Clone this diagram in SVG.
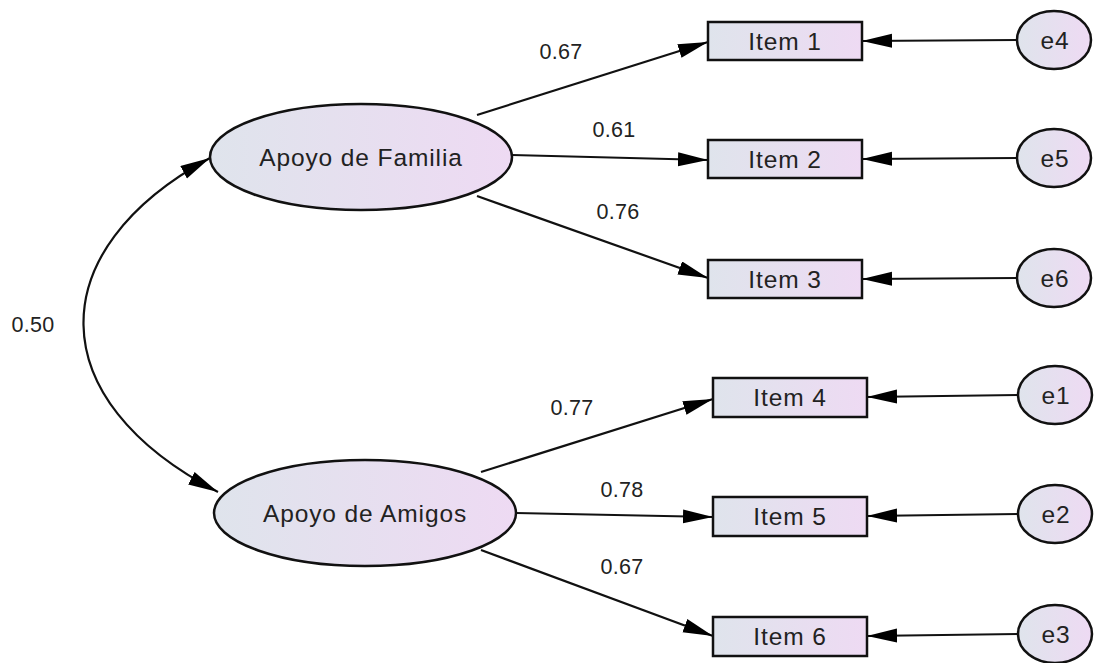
<svg xmlns="http://www.w3.org/2000/svg" width="1095" height="663" viewBox="0 0 1095 663">
<defs>
<linearGradient id="g" x1="0" y1="0" x2="1" y2="0">
<stop offset="0" stop-color="#dfe4ec"/>
<stop offset="1" stop-color="#eedaf3"/>
</linearGradient>
<marker id="ah" markerUnits="userSpaceOnUse" markerWidth="32" markerHeight="16" refX="30" refY="7" orient="auto-start-reverse">
<path d="M0,0 L30,7 L0,14 z" fill="#000"/>
</marker>
</defs>
<style>
.shape{fill:url(#g);stroke:#111;stroke-width:2.5}
.lbl{font-family:"Liberation Sans",Arial,sans-serif;font-size:24.5px;letter-spacing:0.9px;fill:#222;text-anchor:middle;dominant-baseline:central}
.num{font-family:"Liberation Sans",Arial,sans-serif;font-size:21.5px;letter-spacing:0.3px;fill:#222;text-anchor:middle;dominant-baseline:central}
.c{fill:none;stroke:#111;stroke-width:2.2;marker-end:url(#ah)}
</style>
<rect width="1095" height="663" fill="#fff"/>
<g id="connectors">
<path class="c" d="M210,158 C40,250 40,400 218,492" marker-start="url(#ah)"/>
<line class="c" x1="477" y1="115" x2="708" y2="42"/>
<line class="c" x1="512" y1="155" x2="708" y2="160"/>
<line class="c" x1="477" y1="196" x2="708" y2="278"/>
<line class="c" x1="481" y1="472" x2="713" y2="399"/>
<line class="c" x1="516" y1="513" x2="713" y2="517"/>
<line class="c" x1="481" y1="550" x2="713" y2="636"/>
<line class="c" x1="1017" y1="40" x2="862" y2="41"/>
<line class="c" x1="1017" y1="158" x2="862" y2="159"/>
<line class="c" x1="1017" y1="278" x2="862" y2="279"/>
<line class="c" x1="1018" y1="395" x2="867" y2="397"/>
<line class="c" x1="1018" y1="514" x2="867" y2="516"/>
<line class="c" x1="1018" y1="634" x2="867" y2="636"/>
<text class="num" x="561" y="52">0.67</text>
<text class="num" x="614" y="130">0.61</text>
<text class="num" x="618" y="212">0.76</text>
<text class="num" x="572" y="408">0.77</text>
<text class="num" x="622" y="490">0.78</text>
<text class="num" x="622" y="567">0.67</text>
<text class="num" x="33" y="325">0.50</text>
</g>
<g id="familia"><ellipse class="shape" cx="361" cy="157" rx="151" ry="53"/><text class="lbl" x="361" y="157">Apoyo de Familia</text></g>
<g id="amigos"><ellipse class="shape" cx="365" cy="513" rx="151" ry="53"/><text class="lbl" x="365" y="513">Apoyo de Amigos</text></g>
<g id="item1"><rect class="shape" x="708" y="22" width="154" height="38"/><text class="lbl" x="785" y="41">Item 1</text></g>
<g id="item2"><rect class="shape" x="708" y="140" width="154" height="38"/><text class="lbl" x="785" y="159">Item 2</text></g>
<g id="item3"><rect class="shape" x="708" y="260" width="154" height="38"/><text class="lbl" x="785" y="279">Item 3</text></g>
<g id="item4"><rect class="shape" x="713" y="378" width="154" height="39"/><text class="lbl" x="790" y="397">Item 4</text></g>
<g id="item5"><rect class="shape" x="713" y="497" width="154" height="39"/><text class="lbl" x="790" y="516">Item 5</text></g>
<g id="item6"><rect class="shape" x="713" y="617" width="154" height="39"/><text class="lbl" x="790" y="636">Item 6</text></g>
<g id="e4"><ellipse class="shape" cx="1054" cy="40" rx="37" ry="29"/><text class="lbl" x="1055" y="40">e4</text></g>
<g id="e5"><ellipse class="shape" cx="1054" cy="158" rx="37" ry="29"/><text class="lbl" x="1055" y="158">e5</text></g>
<g id="e6"><ellipse class="shape" cx="1054" cy="278" rx="37" ry="29"/><text class="lbl" x="1055" y="278">e6</text></g>
<g id="e1"><ellipse class="shape" cx="1055" cy="395" rx="37" ry="29"/><text class="lbl" x="1056" y="395">e1</text></g>
<g id="e2"><ellipse class="shape" cx="1055" cy="514" rx="37" ry="29"/><text class="lbl" x="1056" y="514">e2</text></g>
<g id="e3"><ellipse class="shape" cx="1055" cy="634" rx="37" ry="29"/><text class="lbl" x="1056" y="634">e3</text></g>
</svg>
